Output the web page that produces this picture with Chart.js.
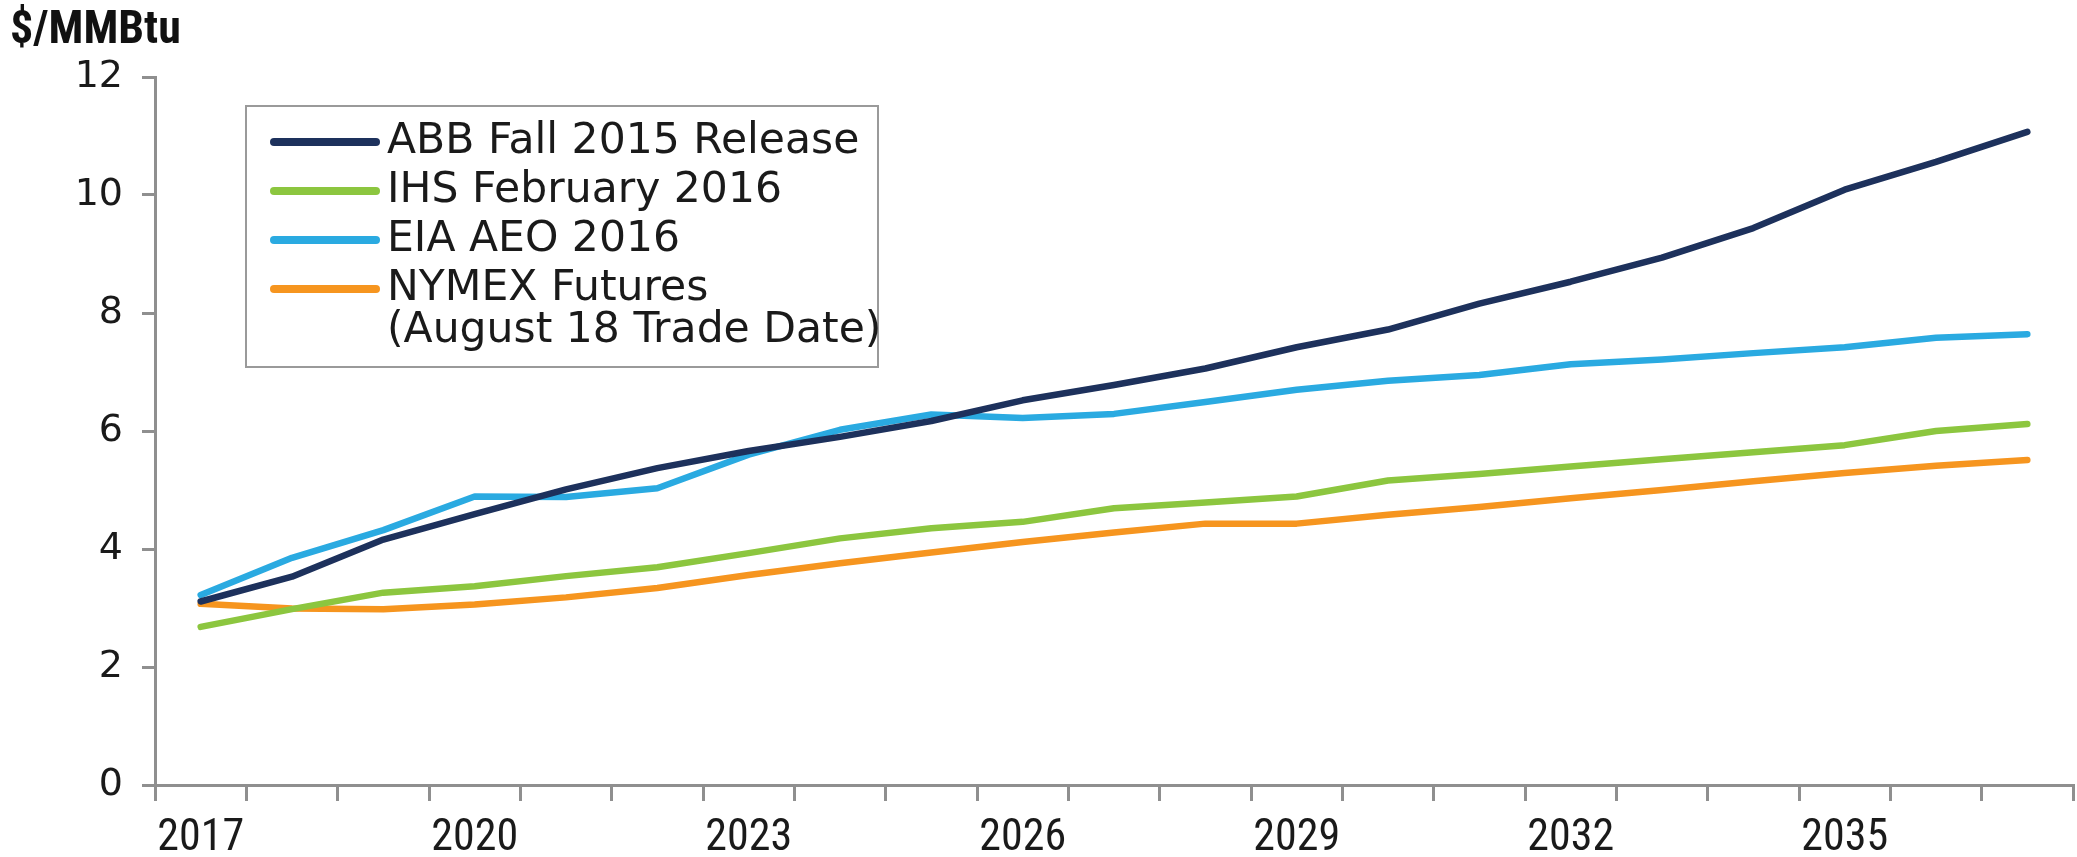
<!DOCTYPE html>
<html>
<head>
<meta charset="utf-8">
<script src="https://cdn.jsdelivr.net/npm/chart.js@4/dist/chart.umd.min.js"></script>
<style>
  html, body { margin: 0; padding: 0; background: #fff; }
  canvas { display: block; }
</style>
</head>
<body>
<canvas id="chart" width="2077" height="857"></canvas>
<script>
// years on the x axis, one point per year
const years = ['2017','2018','2019','2020','2021','2022','2023','2024','2025','2026','2027',
               '2028','2029','2030','2031','2032','2033','2034','2035','2036','2037'];

// $/MMBtu
const abb    = [3.11, 3.53, 4.16, 4.59, 5.01, 5.37, 5.66, 5.90, 6.17, 6.52, 6.78,
                7.06, 7.42, 7.72, 8.16, 8.53, 8.94, 9.44, 10.09, 10.56, 11.07];
const ihs    = [2.68, 2.98, 3.26, 3.37, 3.54, 3.69, 3.93, 4.18, 4.35, 4.46, 4.69,
                4.79, 4.89, 5.16, 5.27, 5.40, 5.52, 5.64, 5.76, 6.00, 6.12];
const eia    = [3.22, 3.85, 4.32, 4.89, 4.88, 5.03, 5.60, 6.02, 6.28, 6.22, 6.29,
                6.49, 6.70, 6.85, 6.95, 7.13, 7.21, 7.32, 7.42, 7.58, 7.64];
const nymex  = [3.07, 2.99, 2.98, 3.06, 3.18, 3.34, 3.56, 3.76, 3.94, 4.12, 4.28,
                4.43, 4.43, 4.58, 4.71, 4.86, 5.00, 5.15, 5.29, 5.41, 5.51];

const yTicks = [0, 2, 4, 6, 8, 10, 12];
const unitLabel = '$/MMBtu';

const axisGrey = '#8f8f8f';
const textCol = '#1a1a1a';

// legend drawn as a box inside the plot, like the original
const boxLegend = {
  id: 'boxLegend',
  afterDatasetsDraw(chart) {
    const ctx = chart.ctx;
    ctx.save();
    ctx.fillStyle = '#fff';
    ctx.fillRect(246, 106, 632, 261);
    ctx.strokeStyle = '#9a9a9a';
    ctx.lineWidth = 2;
    ctx.strokeRect(246, 106, 632, 261);

    ctx.font = '42.5px "DejaVu Sans"';
    ctx.textBaseline = 'middle';
    ctx.fillStyle = textCol;
    let y = 142;
    chart.data.datasets.forEach(ds => {
      ctx.strokeStyle = ds.borderColor;
      ctx.lineWidth = 8;
      ctx.lineCap = 'round';
      ctx.beginPath();
      ctx.moveTo(274, y);
      ctx.lineTo(376, y);
      ctx.stroke();
      const lines = Array.isArray(ds.label) ? ds.label : [ds.label];
      lines.forEach((t, i) => {
        ctx.fillText(t, 387, y + i * 42);
      });
      y += 49;
    });
    ctx.restore();
  }
};

const unitTitle = {
  id: 'unitTitle',
  afterDraw(chart) {
    const ctx = chart.ctx;
    ctx.save();
    ctx.font = 'bold 46px "Roboto Condensed"';
    ctx.fillStyle = '#111';
    ctx.textBaseline = 'alphabetic';
    ctx.fillText(unitLabel, 10, 43);
    ctx.restore();
  }
};

new Chart(document.getElementById('chart'), {
  type: 'line',
  data: {
    labels: years,
    datasets: [
      { label: 'ABB Fall 2015 Release', data: abb, borderColor: '#1d315c' },
      { label: 'IHS February 2016', data: ihs, borderColor: '#8cc63f' },
      { label: 'EIA AEO 2016', data: eia, borderColor: '#2aaae1' },
      { label: ['NYMEX Futures', '(August 18 Trade Date)'], data: nymex, borderColor: '#f6951f' }
    ].map(d => Object.assign(d, {
      borderWidth: 6.5,
      pointRadius: 0,
      tension: 0,
      fill: false,
      borderCapStyle: 'round',
      borderJoinStyle: 'round'
    }))
  },
  options: {
    responsive: false,
    animation: false,
    devicePixelRatio: 1,
    layout: { padding: { top: 77, right: 4, left: 0, bottom: 0 } },
    plugins: {
      legend: { display: false },
      tooltip: { enabled: false },
      title: { display: false }
    },
    scales: {
      x: {
        offset: true,
        grid: { offset: true, drawOnChartArea: false, tickLength: 16, color: axisGrey, lineWidth: 3 },
        border: { color: axisGrey, width: 3 },
        ticks: {
          autoSkip: false,
          maxRotation: 0,
          padding: 12,
          color: textCol,
          font: { family: '"Roboto Condensed"', size: 44 },
          callback: (v, i) => (i % 3 === 0 ? years[i] : '')
        },
        afterFit: s => { s.height = 72; }
      },
      y: {
        min: 0,
        max: 12,
        afterBuildTicks: s => { s.ticks = yTicks.map(v => ({ value: v })); },
        grid: { drawOnChartArea: false, tickLength: 13, color: axisGrey, lineWidth: 3 },
        border: { color: axisGrey, width: 3 },
        ticks: {
          padding: 19,
          color: textCol,
          font: { family: '"DejaVu Sans"', size: 38 }
        },
        afterFit: s => { s.width = 155; }
      }
    }
  },
  plugins: [boxLegend, unitTitle]
});
</script>
</body>
</html>
